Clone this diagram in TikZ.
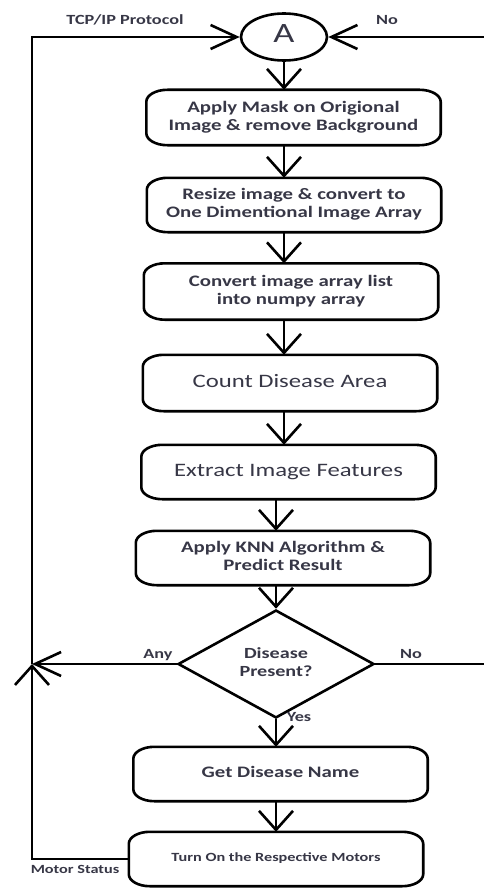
\documentclass[tikz,border=0pt]{standalone}
\usepackage{fontspec}
\usepackage{graphicx}
\setmainfont{Carlito}
\usetikzlibrary{arrows.meta,shapes.geometric,calc}
\definecolor{txt}{RGB}{55,55,70}
\newcommand{\sx}[1]{\scalebox{1.3}[1]{\begin{tabular}{@{}c@{}}#1\end{tabular}}}
\newcommand{\flowbox}[1]{%
  \draw[ln] ([xshift=21pt]#1.north west) -- ([xshift=-21pt]#1.north east)
    arc[start angle=90,end angle=0,x radius=21pt,y radius=12pt]
    -- ([yshift=12pt]#1.south east)
    arc[start angle=0,end angle=-90,x radius=21pt,y radius=12pt]
    -- ([xshift=21pt]#1.south west)
    arc[start angle=-90,end angle=-180,x radius=21pt,y radius=12pt]
    -- ([yshift=-12pt]#1.north west)
    arc[start angle=180,end angle=90,x radius=21pt,y radius=12pt] -- cycle;}
\begin{document}
\begin{tikzpicture}[x=1pt,y=-1pt,
  ln/.style={line width=2.6pt},
  varr/.style={ln,-{Straight Barb[length=19pt,width=34pt]}},
  harr/.style={ln,-{Straight Barb[length=26pt,width=24pt]}},
  boxnode/.style={minimum width=294pt,minimum height=54pt,inner sep=0pt,text=txt,align=center},
  smallbox/.style={boxnode,font=\bfseries\fontsize{16}{18}\selectfont},
  bigbox/.style={boxnode,font=\fontsize{19}{22}\selectfont},
  lbl/.style={text=txt,font=\bfseries\fontsize{14}{16}\selectfont,inner sep=0pt},
]
\useasboundingbox (0,0) rectangle (484,888);
\clip (0,0) rectangle (484,888);

% connector node
\node[ellipse,draw,ln,minimum width=86pt,minimum height=47pt,inner sep=0pt,
      font=\fontsize{28}{30}\selectfont,text=txt] (A) at (284,37) {\sx{A}};

% process boxes
\node[smallbox,minimum height=55pt] (b1) at (293.5,117.5) {\sx{Apply Mask on Origional\\Image \& remove Background}};
\node[smallbox] (b2) at (294,205) {\sx{Resize image \& convert to\\One Dimentional Image Array}};
\node[smallbox,minimum height=56pt] (b3) at (291,291.5) {\sx{Convert image array list\\into numpy array}};
\node[bigbox,minimum height=56pt] (b4) at (290,383) {\sx{Count Disease Area}};
\node[bigbox] (b5) at (288.5,472) {\sx{Extract Image Features}};
\node[smallbox] (b6) at (283,558) {\sx{Apply KNN Algorithm \&\\Predict Result}};
\node[diamond,draw,ln,minimum width=196pt,minimum height=92pt,inner sep=0pt,
      text=txt,font=\bfseries\fontsize{15.5}{17.5}\selectfont] (D) at (276,664) {\sx{Disease\\Present?}};
\node[boxnode,font=\bfseries\fontsize{16}{18}\selectfont] (b7) at (280.5,774) {\sx{Get Disease Name}};
\node[boxnode,font=\bfseries\fontsize{12.5}{14}\selectfont] (b8) at (276,859) {\sx{Turn On the Respective Motors}};

\foreach \n in {b1,b2,b3,b4,b5,b6,b7,b8} {\flowbox{\n}}

% vertical flow arrows
\draw[varr] (A.south) -- (b1.north -| A.south);
\draw[varr] (b1.south -| A.south) -- (b2.north -| A.south);
\draw[varr] (b2.south -| A.south) -- (b3.north -| A.south);
\draw[varr] (b3.south -| A.south) -- (b4.north -| A.south);
\draw[varr] (b4.south -| A.south) -- (b5.north -| A.south);
\draw[varr] (b5.south -| D.north) -- (b6.north -| D.north);
\draw[varr] (b6.south -| D.north) -- (D.north);
\draw[varr] (D.south) -- (b7.north -| D.south);
\draw[varr] (b7.south -| D.south) -- (b8.north -| D.south);

% feedback lines
\coordinate (L) at (32,664);
\coordinate (R) at (492,664);
\draw[varr] (b8.west) -| (L);
\draw[harr] (L) |- (A.west);
\draw[harr] (D.west) -- (L);
\draw[ln] (D.east) -- (R);
\draw[harr] (R) |- (A.east);

% labels
\node[lbl] (t1) at (125,21) {\sx{TCP/IP Protocol}};
\node[lbl] (t2) at (387,21) {\sx{No}};
\node[lbl] (t3) at (158,655) {\sx{Any}};
\node[lbl] (t4) at (411,655) {\sx{No}};
\node[lbl] (t5) at (299,718) {\sx{Yes}};
\node[lbl,font=\bfseries\fontsize{12.5}{14}\selectfont] (t6) at (75,871) {\sx{Motor Status}};
\end{tikzpicture}
\end{document}
